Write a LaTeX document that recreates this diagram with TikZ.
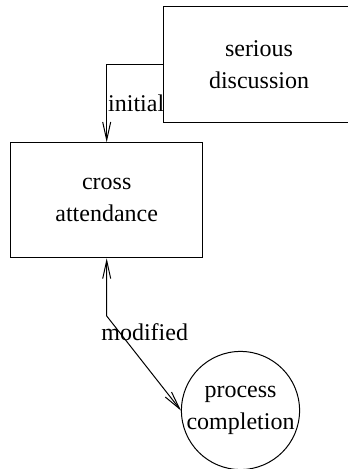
\documentclass[tikz,border=0pt]{standalone}
\usepackage{fontspec}
\setmainfont{Liberation Serif}
\newfontfamily\diagfont{Liberation Serif}
\usepackage{tikz}
\usetikzlibrary{
  arrows.meta,
  shapes,
  positioning,
  calc
}
\tikzset{
  stagebox/.style={
    draw, minimum width=96pt, minimum height=58pt, inner sep=0pt,
    font=\diagfont\fontsize{12}{16}\selectfont, align=center, line width=0.5pt
  },
  stagecirc/.style={
    draw, circle, minimum size=57.5pt, inner sep=0pt,
    font=\diagfont\fontsize{12}{16}\selectfont, align=center, line width=0.5pt
  },
  link/.style={line width=0.5pt, >={Straight Barb[length=9pt, width=4pt]}},
  tag/.style={font=\diagfont\fontsize{12}{14}\selectfont, inner sep=0.5pt}
}

\begin{document}
\begin{tikzpicture}[x=0.5pt, y=-0.5pt]
  \useasboundingbox (0,0) rectangle (347,469);
  \node[stagebox] (serious) at (259,65) {serious\\discussion};
  \node[stagebox, minimum height=57.5pt] (cross) at (106.7,200.3) {cross\\attendance};
  \node[stagecirc] (proc) at (240.5,410.5) {process\\completion};
  \coordinate (bend) at (106.7,316);
  \draw[link, ->] (serious.west) -| node[tag, pos=0.75, anchor=west] {initial} (cross.north);
  \draw[link, <->] (cross.south) -- (bend) -- node[tag, pos=0.17, xshift=12.7pt] {modified} (proc.west);
\end{tikzpicture}
\end{document}
